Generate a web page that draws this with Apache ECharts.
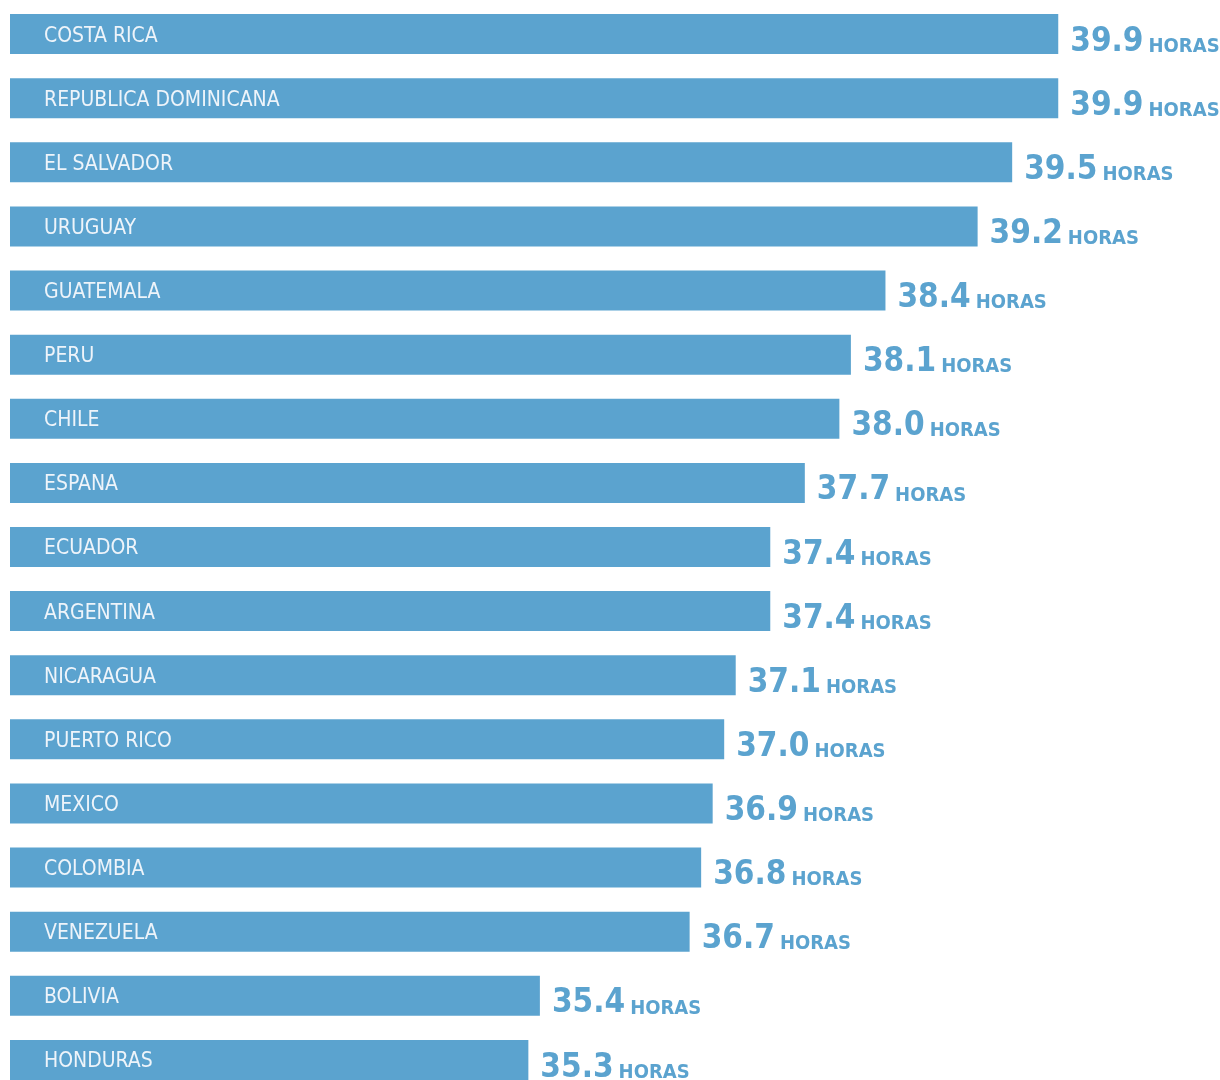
<!DOCTYPE html>
<html>
<head>
<meta charset="utf-8">
<script src="https://cdn.jsdelivr.net/npm/echarts@6/dist/echarts.min.js"></script>
<style>
  html, body { margin: 0; padding: 0; background: #fff; }
  #chart { width: 1220px; height: 1080px; }
</style>
</head>
<body>
<div id="chart"></div>
<script>
const barColor = "#5ba3cf";
const condensed = '"DejaVu Sans Condensed", "Liberation Sans Narrow", sans-serif';

const countries = [
  "COSTA RICA", "REPUBLICA DOMINICANA", "EL SALVADOR", "URUGUAY", "GUATEMALA",
  "PERU", "CHILE", "ESPANA", "ECUADOR", "ARGENTINA", "NICARAGUA",
  "PUERTO RICO", "MEXICO", "COLOMBIA", "VENEZUELA", "BOLIVIA", "HONDURAS"
];
const hours = [
  39.9, 39.9, 39.5, 39.2, 38.4, 38.1, 38.0, 37.7, 37.4, 37.4, 37.1,
  37.0, 36.9, 36.8, 36.7, 35.4, 35.3
];
const unit = "HORAS";

const chart = echarts.init(document.getElementById("chart"));

const option = {
  animation: false,
  grid: { left: 10, top: 2, width: 1198, height: 1090, outerBoundsMode: "none" },
  xAxis: {
    type: "value",
    min: 30.8,
    max: 41.2,
    show: false
  },
  yAxis: {
    type: "category",
    data: countries,
    inverse: true,
    show: false
  },
  series: [
    {
      // bars, country name inside
      type: "bar",
      data: hours,
      barWidth: 40,
      itemStyle: { color: barColor },
      label: {
        show: true,
        position: "insideLeft",
        distance: 34,
        offset: [0, 2],
        formatter: "{b}",
        color: "#eef4fa",
        fontFamily: condensed,
        fontSize: 21
      }
    },
    {
      // transparent copy, holds the value label on the right
      type: "bar",
      data: hours,
      barWidth: 40,
      barGap: "-100%",
      itemStyle: { color: "transparent" },
      silent: true,
      label: {
        show: true,
        position: "right",
        distance: 12,
        offset: [0, 8],
        formatter: function (p) {
          return "{v|" + p.value.toFixed(1) + "}{u|" + unit + "}";
        },
        rich: {
          v: {
            color: barColor,
            fontFamily: condensed,
            fontWeight: "bold",
            fontSize: 33,
            verticalAlign: "bottom"
          },
          u: {
            color: barColor,
            fontFamily: condensed,
            fontWeight: "bold",
            fontSize: 20,
            verticalAlign: "bottom",
            padding: [0, 0, 2, 5]
          }
        }
      }
    }
  ]
};

chart.setOption(option);
</script>
</body>
</html>
